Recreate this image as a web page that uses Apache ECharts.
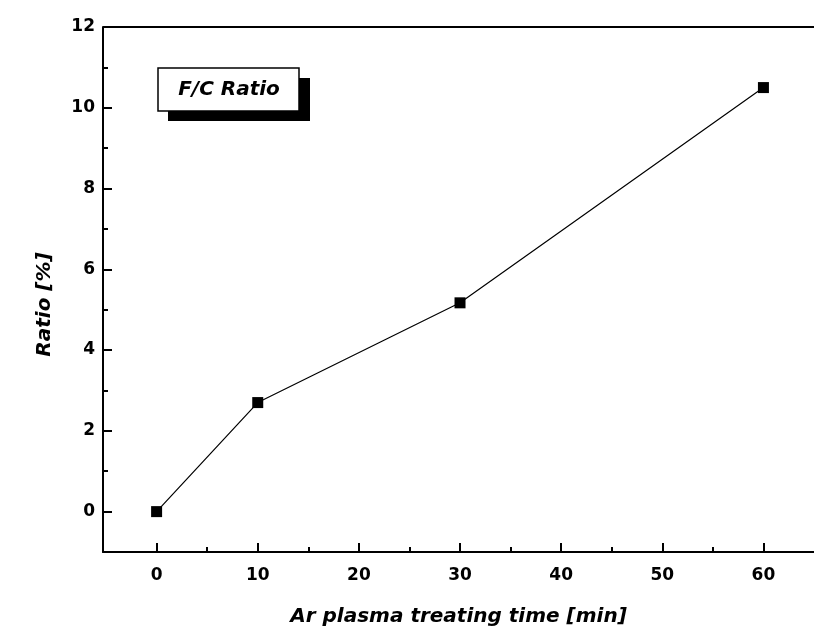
<!DOCTYPE html>
<html>
<head>
<meta charset="utf-8">
<script src="https://cdn.jsdelivr.net/npm/echarts@6/dist/echarts.min.js"></script>
<style>
  html, body { margin: 0; padding: 0; background: #fff; }
  #main { width: 814px; height: 632px; }
</style>
</head>
<body>
<div id="main"></div>
<script>
// treating time [min] and F/C ratio [%]
var times = [0, 10, 30, 60];
var ratios = [0, 2.7, 5.17, 10.5];
var seriesName = 'F/C Ratio';

// tick positions
var xMajor = [0, 10, 20, 30, 40, 50, 60];
var xMinor = [5, 15, 25, 35, 45, 55];
var yMajor = [0, 2, 4, 6, 8, 10, 12];
var yMinor = [1, 3, 5, 7, 9, 11];

var points = times.map(function (t, i) { return [t, ratios[i]]; });
var font = '"DejaVu Sans", sans-serif';
var nameStyle = { fontFamily: font, fontSize: 20, fontWeight: 'bold', fontStyle: 'italic', color: '#000' };
var labelStyle = { fontFamily: font, fontSize: 17, fontWeight: 'bold', color: '#000' };

// hidden axis that only draws the short minor ticks
function minorAxis(min, max, values, pos) {
    return {
        type: 'value', min: min, max: max, position: pos,
        axisLine: { show: false, onZero: false },
        axisTick: { show: true, inside: true, length: 5, customValues: values, lineStyle: { color: '#000', width: 2 } },
        axisLabel: { show: false, customValues: values },
        splitLine: { show: false }
    };
}

var chart = echarts.init(document.getElementById('main'));
chart.setOption({
    backgroundColor: '#fff',
    animation: false,
    grid: { left: 103, top: 27, width: 717, height: 526 },
    xAxis: [{
        type: 'value', min: -5.3, max: 65, position: 'bottom',
        name: 'Ar plasma treating time [min]',
        nameLocation: 'middle', nameGap: 55,
        nameTextStyle: nameStyle,
        axisLine: { onZero: false, lineStyle: { color: '#000', width: 2 } },
        axisTick: { inside: true, length: 9, customValues: xMajor, lineStyle: { color: '#000', width: 2 } },
        splitLine: { show: false },
        axisLabel: Object.assign({ margin: 15, customValues: xMajor }, labelStyle)
    }, minorAxis(-5.3, 65, xMinor, 'bottom')],
    yAxis: [{
        type: 'value', min: -1, max: 12, position: 'left',
        name: 'Ratio [%]',
        nameLocation: 'middle', nameGap: 48, nameRotate: 90,
        nameTextStyle: Object.assign({ padding: [0, 30, 0, 0] }, nameStyle),
        axisLine: { onZero: false, lineStyle: { color: '#000', width: 2 } },
        axisTick: { inside: true, length: 9, customValues: yMajor, lineStyle: { color: '#000', width: 2 } },
        splitLine: { show: false },
        axisLabel: Object.assign({ margin: 8, customValues: yMajor }, labelStyle)
    }, minorAxis(-1, 12, yMinor, 'left')],
    graphic: [
        { type: 'line', shape: { x1: 103, y1: 27, x2: 814, y2: 27 }, style: { stroke: '#000', lineWidth: 2 } },
        { type: 'rect', shape: { x: 168, y: 78, width: 142, height: 43 }, style: { fill: '#000' } },
        { type: 'rect', shape: { x: 158, y: 68, width: 141, height: 43 }, style: { fill: '#fff', stroke: '#000', lineWidth: 1.5 } },
        {
            type: 'text', x: 229, y: 90,
            style: {
                text: seriesName, fontFamily: font, fontSize: 20, fontWeight: 'bold', fontStyle: 'italic',
                fill: '#000', align: 'center', verticalAlign: 'middle'
            }
        }
    ],
    series: [{
        name: seriesName,
        type: 'line',
        data: points,
        symbol: 'rect',
        symbolSize: 11,
        itemStyle: { color: '#000' },
        lineStyle: { color: '#000', width: 1.2 }
    }]
});
</script>
</body>
</html>
